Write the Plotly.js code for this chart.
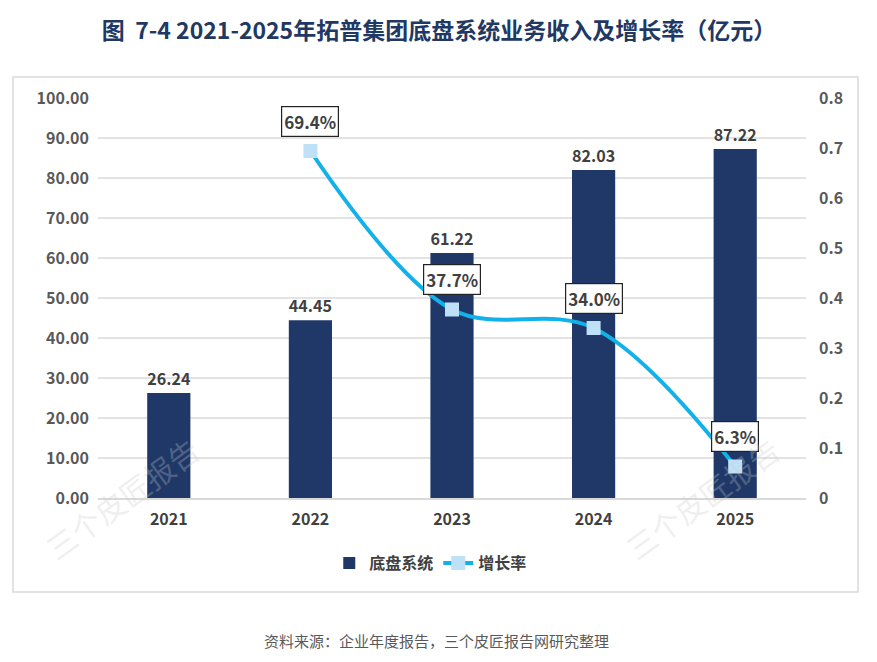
<!DOCTYPE html>
<html>
<head>
<meta charset="utf-8">
<script src="https://cdn.plot.ly/plotly-3.0.1.min.js"></script>
<style>html,body{margin:0;padding:0;background:#fff;}#chart{width:877px;height:662px;}</style>
</head>
<body>
<div id="chart"></div>
<script>
const years = ['2021', '2022', '2023', '2024', '2025'];
const revenue = [26.24, 44.45, 61.22, 82.03, 87.22];
const growthYears = ['2022', '2023', '2024', '2025'];
const growth = [0.694, 0.377, 0.340, 0.063];
const growthLabels = ['69.4%', '37.7%', '34.0%', '6.3%'];
const seriesNames = ['底盘系统', '增长率'];
const titleText = '图  7-4 2021-2025年拓普集团底盘系统业务收入及增长率（亿元）';
const sourceText = '资料来源：企业年度报告，三个皮匠报告网研究整理';
const watermark = '三个皮匠报告';

const FONT = '"Noto Sans CJK SC", "Noto Sans", sans-serif';

const bars = {
  type: 'bar', x: years, y: revenue, name: seriesNames[0],
  marker: {color: '#1f3868'},
  text: revenue.map(v => v.toFixed(2)), textposition: 'outside', cliponaxis: false,
  textfont: {family: FONT, size: 17, color: '#404040', weight: 700},
  hoverinfo: 'skip'
};
const line = {
  type: 'scatter', mode: 'lines+markers', x: growthYears, y: growth, yaxis: 'y2',
  name: seriesNames[1],
  line: {color: '#13b1ea', width: 4, shape: 'spline', smoothing: 1},
  marker: {symbol: 'square', size: 14, color: '#bfe1f8'},
  hoverinfo: 'skip'
};

// category axes: annotation positions given as the category index
const annotations = growthYears.map((yr, i) => ({
  x: years.indexOf(yr), y: growth[i], xref: 'x', yref: 'y2', text: growthLabels[i],
  showarrow: true, arrowcolor: 'rgba(0,0,0,0)', ax: 0, ay: -30,
  font: {family: FONT, size: 17, color: '#404040', weight: 700},
  bgcolor: '#ffffff', bordercolor: '#222222', borderwidth: 1.2, borderpad: 2
}));
annotations.push({
  xref: 'paper', yref: 'paper', x: (436 - 98) / 708, y: (498 - 640) / 400, xanchor: 'center', yanchor: 'middle',
  text: sourceText, showarrow: false,
  font: {family: FONT, size: 15, color: '#595959'}
});
[[122, 498], [702, 498]].forEach(([px, py]) => {
  annotations.push({
    xref: 'paper', yref: 'paper', x: (px - 98) / 708, y: (498 - py) / 400,
    xanchor: 'center', yanchor: 'middle',
    text: watermark, showarrow: false, textangle: -36,
    font: {family: FONT, size: 30, color: 'rgba(200,200,200,0.3)'}
  });
});

const layout = {
  width: 877, height: 662,
  margin: {l: 98, r: 71, t: 98, b: 164},
  paper_bgcolor: '#ffffff', plot_bgcolor: '#ffffff',
  title: {text: titleText, x: (439 - 98) / 708, xref: 'paper', xanchor: 'center', y: 1 - 31 / 662, yref: 'container', yanchor: 'middle',
    font: {family: FONT, size: 23, color: '#1f3864', weight: 700}},
  bargap: 0.695,
  showlegend: true,
  legend: {orientation: 'h', x: 0.47, xanchor: 'center', y: (498 - 563) / 400, yanchor: 'middle',
    font: {family: FONT, size: 16, color: '#404040', weight: 700}},
  xaxis: {type: 'category', range: [-0.5, 4.5], showgrid: false, showline: true, linecolor: '#d9d9d9', linewidth: 1.5,
    ticks: '', tickfont: {family: FONT, size: 16, color: '#404040', weight: 700}, ticklabelstandoff: 6},
  yaxis: {range: [0, 100], dtick: 10, tickformat: '.2f', showgrid: true, gridcolor: '#e3e3e3', gridwidth: 1.2,
    zeroline: false, showline: false, ticks: '', ticklabelstandoff: 8,
    tickfont: {family: FONT, size: 16, color: '#595959', weight: 700}},
  yaxis2: {range: [0, 0.8], dtick: 0.1, overlaying: 'y', side: 'right', showgrid: false, zeroline: false,
    showline: false, ticks: '', ticklabelstandoff: 12,
    tickfont: {family: FONT, size: 16, color: '#595959', weight: 700}},
  shapes: [{type: 'rect', xref: 'paper', yref: 'paper',
    x0: (13 - 98) / 708, x1: (858 - 98) / 708, y0: (498 - 592) / 400, y1: (498 - 77) / 400,
    line: {color: '#d9d9d9', width: 1.5}, fillcolor: 'rgba(0,0,0,0)', layer: 'below'}],
  annotations: annotations
};

Plotly.newPlot('chart', [bars, line], layout, {displayModeBar: false, staticPlot: true});
</script>
</body>
</html>
